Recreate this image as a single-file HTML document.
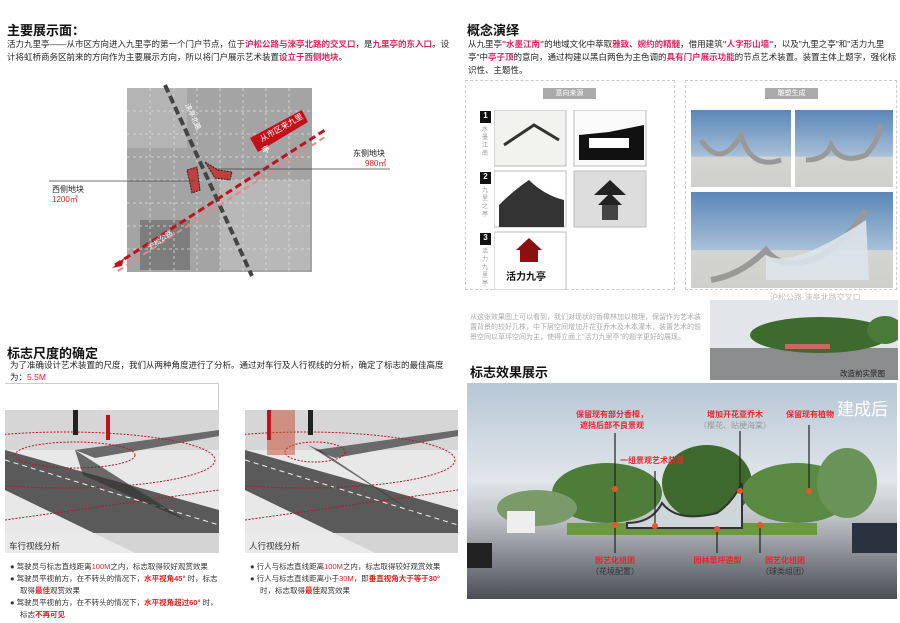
<!DOCTYPE html>
<html><head><meta charset="utf-8"><style>
*{margin:0;padding:0;box-sizing:border-box}
body{width:900px;height:623px;background:#fff;position:relative;overflow:hidden;font-family:"Liberation Sans","Noto Sans CJK SC",sans-serif;color:#222}
.a{position:absolute}
h2{position:absolute;font-size:13px;font-weight:bold;color:#111}
.t{font-size:8.5px;line-height:13px}
.r{color:#e0245e;font-weight:bold}
.rd{color:#e02020;font-weight:bold}
.s{font-size:7.5px;line-height:12px;color:#333}
.s div{padding-left:10px;text-indent:-10px}
.lab{font-size:8px;color:#e8242b;font-weight:bold;text-align:center;line-height:11px}
</style></head><body>

<h2 style="left:7px;top:20px">主要展示面：</h2>
<div class="a t" style="left:7px;top:38px;width:445px">活力九里亭——从市区方向进入九里亭的第一个门户节点，位于<span class="r">沪松公路与淶亭北路的交叉口</span>，是<span class="r">九里亭的东入口</span>。设计将虹桥商务区前来的方向作为主要展示方向，所以将门户展示艺术装置<span class="r">设立于西侧地块</span>。</div>

<!-- map -->
<svg class="a" style="left:0;top:80px" width="450" height="200">
<rect x="127" y="8" width="185" height="184" fill="#a4a4a4"/>
<rect x="127" y="8" width="60" height="60" fill="#b4b4b4"/><rect x="220" y="100" width="90" height="90" fill="#b8b8b8"/>
<rect x="140" y="140" width="50" height="50" fill="#7d7d7d"/>
<g stroke="#ddd" stroke-dasharray="3,3" stroke-width="0.8">
<line x1="150" y1="8" x2="150" y2="192"/><line x1="174" y1="8" x2="174" y2="192"/><line x1="197" y1="8" x2="197" y2="192"/><line x1="220" y1="8" x2="220" y2="192"/><line x1="243" y1="8" x2="243" y2="192"/><line x1="266" y1="8" x2="266" y2="192"/><line x1="289" y1="8" x2="289" y2="192"/>
<line x1="127" y1="31" x2="312" y2="31"/><line x1="127" y1="54" x2="312" y2="54"/><line x1="127" y1="77" x2="312" y2="77"/><line x1="127" y1="100" x2="312" y2="100"/><line x1="127" y1="123" x2="312" y2="123"/><line x1="127" y1="146" x2="312" y2="146"/><line x1="127" y1="169" x2="312" y2="169"/></g>
<line x1="165" y1="5" x2="252" y2="196" stroke="#444" stroke-width="4" stroke-dasharray="8,4"/>
<line x1="115" y1="185" x2="325" y2="50" stroke="#c4101a" stroke-width="3" stroke-dasharray="7,4"/>
<line x1="118" y1="191" x2="328" y2="55" stroke="#e08a8a" stroke-width="2" stroke-dasharray="6,4"/>
<polygon points="112,188 124,178 122,186" fill="#c4101a"/>
<polygon points="250,58 302,30 308,42 258,72" fill="#c4101a"/>
<text x="262" y="62" font-size="8" fill="#fff" transform="rotate(-30 262 62)">从市区来九里</text>
<text x="264" y="74" font-size="8" fill="#fff" transform="rotate(-30 264 74)">亭</text>
<polygon points="187,90 197,87 200,110 192,113" fill="#c04040" stroke="#222" stroke-dasharray="2,1"/>
<polygon points="205,82 218,90 232,92 230,100 215,98" fill="#c04040" stroke="#222" stroke-dasharray="2,1"/>
<line x1="49" y1="101" x2="195" y2="101" stroke="#444" stroke-width="0.8"/>
<line x1="217" y1="89" x2="390" y2="89" stroke="#444" stroke-width="0.8"/>
<text x="52" y="112" font-size="8" fill="#222">西侧地块</text><text x="52" y="122" font-size="8" fill="#e02020">1200㎡</text>
<text x="353" y="76" font-size="8" fill="#222">东侧地块</text><text x="365" y="86" font-size="8" fill="#e02020">980㎡</text>
<text x="150" y="170" font-size="7" fill="#fff" transform="rotate(-35 150 170)">沪松公路</text>
<text x="185" y="25" font-size="7" fill="#fff" transform="rotate(65 185 25)">淶亭北路</text>
</svg>

<h2 style="left:7px;top:343px">标志尺度的确定</h2>
<div class="a t" style="left:10px;top:359px;width:440px;line-height:12px">为了准确设计艺术装置的尺度，我们从两种角度进行了分析。通过对车行及人行视线的分析，确定了标志的最佳高度为：<span style="color:#e02020">5.5M</span></div>
<div class="a" style="left:5px;top:383px;width:213px;height:1px;background:#ccc"></div>
<div class="a" style="left:218px;top:383px;width:1px;height:30px;background:#ccc"></div>

<!-- street diagrams -->
<svg class="a" style="left:5px;top:410px" width="214" height="143">
<rect width="214" height="143" fill="#e8e8e8"/>
<rect y="0" width="214" height="40" fill="#d6d6d6"/>
<polygon points="0,40 214,100 214,143 130,143 0,80" fill="#5a5a5a"/>
<polygon points="70,40 214,20 214,26 90,48" fill="#6a6a6a"/>
<line x1="0" y1="50" x2="214" y2="115" stroke="#eee" stroke-dasharray="5,4"/>
<ellipse cx="70" cy="45" rx="60" ry="13" fill="none" stroke="#c4101a" stroke-dasharray="2,1.5"/>
<ellipse cx="60" cy="50" rx="150" ry="28" fill="none" stroke="#c4101a" stroke-dasharray="2,1.5"/>
<line x1="0" y1="110" x2="214" y2="80" stroke="#c4101a" stroke-dasharray="2,1.5"/>
<polygon points="70,40 78,65 100,75 180,110" fill="#333" opacity=".7"/>
<rect x="68" y="0" width="5" height="25" fill="#222"/><rect x="101" y="5" width="4" height="25" fill="#c4101a"/>
<rect x="0" y="123" width="214" height="20" fill="#eaeaea" opacity=".85"/>
<text x="4" y="139" font-size="8.5" fill="#333">车行视线分析</text>
</svg>
<svg class="a" style="left:245px;top:410px" width="213" height="143">
<rect width="213" height="143" fill="#e8e8e8"/>
<rect y="0" width="213" height="40" fill="#d6d6d6"/>
<polygon points="0,40 213,100 213,143 130,143 0,80" fill="#5a5a5a"/>
<polygon points="70,40 213,20 213,26 90,48" fill="#6a6a6a"/>
<line x1="0" y1="50" x2="213" y2="115" stroke="#eee" stroke-dasharray="5,4"/>
<ellipse cx="60" cy="50" rx="150" ry="28" fill="none" stroke="#c4101a" stroke-dasharray="2,1.5"/>
<ellipse cx="70" cy="42" rx="30" ry="10" fill="none" stroke="#c4101a" stroke-dasharray="2,1.5"/>
<line x1="0" y1="110" x2="213" y2="80" stroke="#c4101a" stroke-dasharray="2,1.5"/>
<rect x="22" y="-10" width="28" height="55" fill="#c8553a" opacity=".55"/>
<rect x="22" y="-10" width="4" height="40" fill="#c4101a"/><rect x="63" y="0" width="5" height="25" fill="#222"/>
<polygon points="63,35 75,40 180,110" fill="#333" opacity=".7"/>
<rect x="0" y="123" width="213" height="20" fill="#eaeaea" opacity=".85"/>
<text x="4" y="139" font-size="8.5" fill="#333">人行视线分析</text>
</svg>

<div class="a s" style="left:10px;top:561px;width:210px">
<div>● 驾驶员与标志直线距离<span style="color:#e02020">100M</span>之内，标志取得较好观赏效果</div>
<div>● 驾驶员平视前方，在不转头的情况下，<span class="rd">水平视角45°</span> 时，标志取得<span class="rd">最佳</span>观赏效果</div>
<div>● 驾驶员平视前方，在不转头的情况下，<span class="rd">水平视角超过60°</span> 时，标志<span class="rd">不再可见</span></div></div>
<div class="a s" style="left:250px;top:561px;width:205px">
<div>● 行人与标志直线距离<span style="color:#e02020">100M</span>之内，标志取得较好观赏效果</div>
<div>● 行人与标志直线距离小于<span style="color:#e02020">30M</span>，即<span class="rd">垂直视角大于等于30°</span> 时，标志取得<span class="rd">最佳</span>观赏效果</div></div>

<!-- right column -->
<h2 style="left:467px;top:20px">概念演绎</h2>
<div class="a t" style="left:468px;top:38px;width:430px">从九里亭<span class="r">"水墨江南"</span>的地域文化中萃取<span class="r">雅致、婉约的精髓</span>，借用建筑<span class="r">"人字形山墙"</span>，以及"九里之亭"和"活力九里亭"中<span class="r">亭子顶</span>的意向，通过构建以黑白两色为主色调的<span class="r">具有门户展示功能</span>的节点艺术装置。装置主体上题字，强化标识性、主题性。</div>

<div class="a" style="left:465px;top:80px;width:210px;height:210px;border:1px dashed #ccc;background:#fff"></div>
<div class="a" style="left:543px;top:88px;width:53px;height:11px;background:#aaa;color:#fff;font-size:7px;text-align:center;line-height:11px">意向来源</div>
<div class="a" style="left:480px;top:111px;width:11px;height:12px;background:#111;color:#fff;font-size:8px;text-align:center;font-weight:bold">1</div>
<div class="a" style="left:480px;top:172px;width:11px;height:12px;background:#111;color:#fff;font-size:8px;text-align:center;font-weight:bold">2</div>
<div class="a" style="left:480px;top:233px;width:11px;height:12px;background:#111;color:#fff;font-size:8px;text-align:center;font-weight:bold">3</div>
<div class="a" style="left:482px;top:126px;width:8px;font-size:6px;color:#999;line-height:8px">水墨江南</div>
<div class="a" style="left:482px;top:187px;width:8px;font-size:6px;color:#999;line-height:8px">九里之亭</div>
<div class="a" style="left:482px;top:248px;width:8px;font-size:6px;color:#999;line-height:8px">活力九里亭</div>
<svg class="a" style="left:494px;top:110px" width="176" height="180">
<rect x="0" y="0" width="72" height="56" fill="#f2f2ee" stroke="#bbb"/><path d="M10 35 L40 15 L65 30" stroke="#333" stroke-width="3" fill="none"/>
<rect x="80" y="0" width="72" height="56" fill="#fafafa" stroke="#bbb"/><path d="M85 25 L115 22 L150 15 L150 50 L85 50Z" fill="#111"/><rect x="95" y="28" width="40" height="10" fill="#fff"/>
<rect x="0" y="61" width="72" height="56" fill="#fff" stroke="#bbb"/><path d="M5 95 Q20 80 35 70 Q50 85 70 90 L70 117 L5 117Z" fill="#333"/>
<rect x="80" y="61" width="72" height="56" fill="#ddd" stroke="#bbb"/><path d="M100 85 L116 70 L132 85Z M104 95 L116 83 L128 95Z" fill="#222"/><rect x="108" y="95" width="16" height="15" fill="#444"/>
<rect x="0" y="122" width="72" height="58" fill="#fff" stroke="#bbb"/><path d="M22 140 L35 128 L48 140Z" fill="#8b1010"/><rect x="26" y="140" width="18" height="12" fill="#8b1010"/>
<text x="12" y="170" font-size="10" font-weight="bold" fill="#111">活力九亭</text>
</svg>

<div class="a" style="left:685px;top:80px;width:212px;height:210px;border:1px dashed #ccc;background:#fff"></div>
<div class="a" style="left:765px;top:88px;width:53px;height:11px;background:#aaa;color:#fff;font-size:7px;text-align:center;line-height:11px">雕塑生成</div>
<svg class="a" style="left:691px;top:110px" width="202" height="178">
<defs><linearGradient id="sk" x1="0" y1="0" x2="0" y2="1"><stop offset="0" stop-color="#5a86b8"/><stop offset=".6" stop-color="#a8c0d8"/><stop offset=".61" stop-color="#d4d4d0"/><stop offset="1" stop-color="#cfcfcb"/></linearGradient></defs>
<rect x="0" y="0" width="100" height="77" fill="url(#sk)"/><rect x="104" y="0" width="98" height="77" fill="url(#sk)"/>
<rect x="0" y="82" width="202" height="96" fill="url(#sk)"/>
<path d="M10 30 Q30 60 50 25 Q60 60 90 50" stroke="#999" stroke-width="5" fill="none"/>
<path d="M115 50 Q135 50 140 35 Q150 55 175 45 Q188 30 190 15" stroke="#999" stroke-width="5" fill="none"/>
<path d="M20 170 Q50 165 75 140 Q90 160 120 150 Q150 140 175 100" stroke="#999" stroke-width="6" fill="none"/>
<path d="M75 145 Q100 160 175 110 L178 170 L75 170Z" fill="#dde4ea" opacity=".9"/>
</svg>
<div class="a" style="left:770px;top:292px;font-size:8px;color:#bbb">沪松公路-淶亭北路交叉口</div>

<div class="a" style="left:470px;top:313px;width:235px;font-size:7px;line-height:10px;color:#aaa">从这张效果图上可以看到，我们对现状的香樟林加以梳理，保留作为艺术装置背景的较好几株，中下层空间增加开花亚乔木及木本灌木，装置艺术的前景空间以草坪空间为主，使得立面上"活力九里亭"的题字更好的展现。</div>
<svg class="a" style="left:710px;top:300px" width="188" height="80">
<rect width="188" height="80" fill="#e2e6ea"/><rect y="48" width="188" height="32" fill="#8a8c8e"/>
<ellipse cx="110" cy="35" rx="70" ry="18" fill="#3d6b2e"/><ellipse cx="175" cy="30" rx="18" ry="14" fill="#4a7a38"/>
<rect x="75" y="44" width="45" height="5" fill="#c66"/>
<text x="130" y="76" font-size="7.5" fill="#222">改造前实景图</text>
</svg>
<h2 style="left:470px;top:362px">标志效果展示</h2>

<svg class="a" style="left:467px;top:383px" width="430" height="216">
<defs><linearGradient id="bs" x1="0" y1="0" x2="0" y2="1"><stop offset="0" stop-color="#b7c7d6"/><stop offset=".45" stop-color="#e0e6ea"/><stop offset=".62" stop-color="#c0c4c8"/><stop offset="1" stop-color="#4a4e55"/></linearGradient></defs>
<rect width="430" height="216" fill="url(#bs)"/>
<ellipse cx="140" cy="110" rx="55" ry="30" fill="#4e7d3a"/><ellipse cx="240" cy="100" rx="45" ry="38" fill="#3d6a2c"/>
<ellipse cx="330" cy="110" rx="55" ry="30" fill="#5a8a42"/><ellipse cx="70" cy="125" rx="40" ry="18" fill="#7a9a6a"/>
<ellipse cx="380" cy="100" rx="30" ry="35" fill="#6a9358"/>
<rect x="100" y="140" width="250" height="12" fill="#6b9a3e"/>
<path d="M160 140 Q185 140 195 120 Q210 140 250 130 Q265 120 275 100 L275 145 L160 145Z" fill="#cfd6da" stroke="#333" stroke-width="2"/>
<rect x="40" y="128" width="28" height="22" fill="#eee"/><rect x="385" y="140" width="45" height="30" fill="#2a3240"/><rect x="0" y="160" width="25" height="25" fill="#222"/>
<text x="370" y="32" font-size="17" fill="#fff">建成后</text>
<g stroke="#222" stroke-width="1.2"><line x1="148" y1="50" x2="148" y2="170"/><line x1="188" y1="88" x2="188" y2="140"/><line x1="273" y1="48" x2="273" y2="108"/><line x1="342" y1="42" x2="342" y2="108"/><line x1="250" y1="145" x2="250" y2="170"/><line x1="293" y1="142" x2="293" y2="170"/></g>
<g fill="#e8542b"><circle cx="148" cy="106" r="3"/><circle cx="148" cy="142" r="3"/><circle cx="188" cy="143" r="3"/><circle cx="273" cy="108" r="3"/><circle cx="342" cy="108" r="3"/><circle cx="250" cy="146" r="3"/><circle cx="293" cy="142" r="3"/></g>
</svg>
<div class="a lab" style="left:567px;top:409px;width:90px">保留现有部分香樟，<br>遮挡后部不良景观</div>
<div class="a lab" style="left:695px;top:409px;width:80px">增加开花亚乔木<br><span style="color:#999;font-weight:normal">（樱花、贴梗海棠）</span></div>
<div class="a lab" style="left:775px;top:409px;width:70px">保留现有植物</div>
<div class="a lab" style="left:612px;top:455px;width:80px">一组景观艺术装置</div>
<div class="a lab" style="left:580px;top:555px;width:70px">园艺化组团<br><span style="color:#333;font-weight:normal">（花境配置）</span></div>
<div class="a lab" style="left:680px;top:555px;width:75px">园林草坪造型</div>
<div class="a lab" style="left:750px;top:555px;width:70px">园艺化组团<br><span style="color:#333;font-weight:normal">（球类组团）</span></div>
</body></html>
